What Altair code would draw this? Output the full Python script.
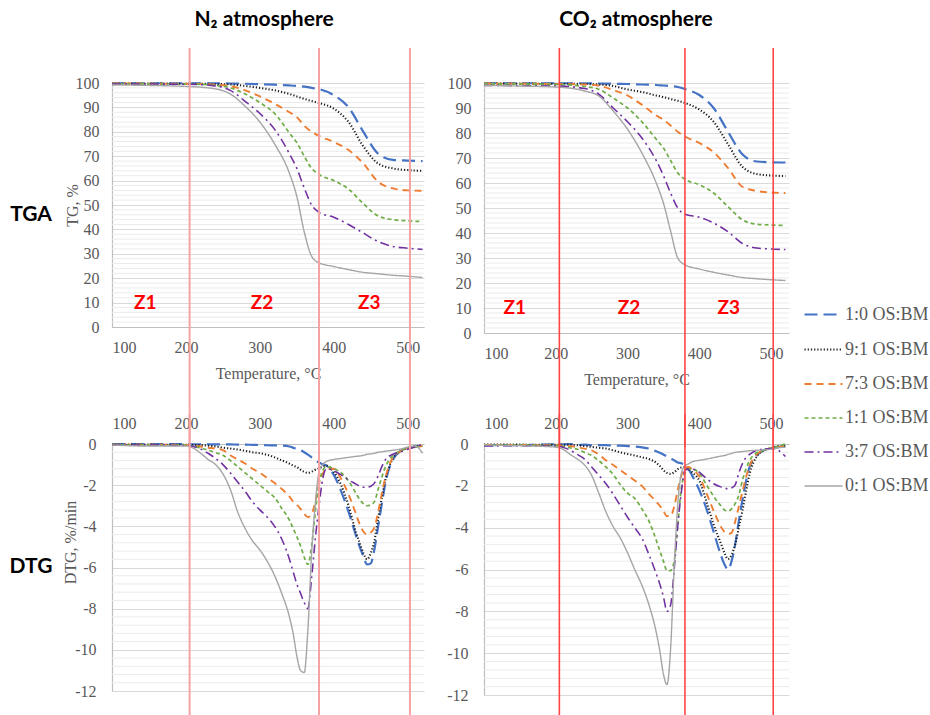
import altair as alt
import pandas as pd

# ---------------- series definitions ----------------
SERIES = ["1:0 OS:BM", "9:1 OS:BM", "7:3 OS:BM", "1:1 OS:BM", "3:7 OS:BM", "0:1 OS:BM"]
COLORS = ["#4472C4", "#1a1a1a", "#ED7D31", "#70AD47", "#7030A0", "#A5A5A5"]
DASHES = [[13, 6], [1.2, 2], [7, 5], [4, 3], [9, 4, 2, 4], [1, 0]]
WIDTHS = [2.2, 1.4, 2.2, 1.6, 2.2, 2.0]

# ---------------- TGA data (TG, %) ----------------
TEMP_TGA = [100, 200, 240, 260, 280, 300, 320, 340, 350, 360, 370, 380, 400, 420, 440, 460, 480, 500, 520]

TGA_N2_10 = [99.9, 99.9, 99.9, 99.8, 99.7, 99.5, 99.3, 99.0, 98.8, 98.5, 98.0, 97.5, 95.0, 90.0, 80.0, 71.0, 68.5, 68.2, 68.0]
TGA_N2_91 = [99.8, 99.7, 99.6, 99.4, 98.8, 98.0, 97.0, 95.5, 94.5, 93.5, 92.6, 91.8, 89.5, 84.0, 74.0, 67.0, 65.0, 64.3, 64.0]
TGA_N2_73 = [99.8, 99.7, 99.3, 98.7, 97.0, 94.5, 91.5, 88.0, 86.0, 82.5, 80.0, 78.3, 75.8, 72.5, 67.0, 59.5, 56.8, 56.0, 55.8]
TGA_N2_11 = [99.7, 99.6, 99.0, 98.0, 95.5, 92.0, 87.5, 79.5, 75.5, 70.0, 65.0, 62.5, 60.0, 56.5, 50.5, 45.5, 44.0, 43.5, 43.2]
TGA_N2_37 = [99.6, 99.5, 98.8, 97.0, 92.5, 87.5, 81.0, 71.0, 65.0, 57.0, 50.0, 47.0, 45.0, 42.0, 38.5, 35.0, 33.0, 32.3, 31.8]
TGA_N2_01 = [99.2, 98.6, 97.6, 95.5, 90.5, 84.0, 75.0, 63.0, 53.5, 39.0, 29.0, 26.3, 24.8, 23.5, 22.4, 21.8, 21.2, 20.8, 20.3]

TGA_CO2_10 = [99.9, 99.9, 99.9, 99.8, 99.7, 99.6, 99.4, 99.2, 99.0, 98.8, 98.4, 97.6, 95.2, 90.0, 80.5, 71.5, 68.6, 68.3, 68.2]
TGA_CO2_91 = [99.8, 99.7, 99.6, 99.4, 98.8, 97.4, 96.4, 95.0, 94.4, 93.6, 92.9, 92.0, 89.4, 84.5, 75.5, 66.5, 63.6, 63.0, 62.8]
TGA_CO2_73 = [99.8, 99.6, 99.4, 98.9, 97.2, 95.0, 91.3, 87.0, 85.3, 83.0, 80.5, 78.6, 76.0, 72.3, 66.0, 58.5, 56.8, 56.2, 56.0]
TGA_CO2_11 = [99.7, 99.4, 98.6, 97.5, 94.0, 90.0, 84.5, 77.5, 74.0, 69.0, 64.0, 61.5, 59.3, 56.0, 50.5, 45.3, 43.5, 43.2, 43.0]
TGA_CO2_37 = [99.0, 98.8, 97.8, 95.5, 90.0, 84.5, 78.0, 69.0, 63.0, 56.0, 50.0, 47.5, 46.3, 44.0, 40.5, 35.8, 34.0, 33.6, 33.4]
TGA_CO2_01 = [99.0, 98.4, 96.8, 94.8, 88.8, 81.5, 72.0, 60.0, 52.0, 40.8, 30.0, 27.3, 25.6, 24.3, 23.2, 22.2, 21.7, 21.3, 21.0]

# ---------------- DTG data (%/min) ----------------
TEMP_DTG = [100, 150, 200, 210, 220, 230, 240, 250, 260, 270, 280, 290, 300, 310, 320, 330, 340, 345,
            350, 355, 360, 365, 370, 375, 380, 385, 390, 400, 410, 420, 430, 435, 440, 445, 450, 455,
            460, 465, 470, 480, 490, 500, 510, 520]

DTG_N2_10 = [0.0, 0.0, 0.0, -0.02, -0.02, -0.02, -0.02, -0.02, -0.02, -0.03, -0.03, -0.04, -0.05, -0.06, -0.07,
             -0.08, -0.12, -0.18, -0.25, -0.3, -0.4, -0.52, -0.65, -0.8, -0.9, -0.98, -1.05, -1.5, -2.3, -3.3,
             -4.45, -5.0, -5.45, -5.85, -5.8, -5.1, -4.0, -2.9, -1.85, -0.75, -0.35, -0.2, -0.12, -0.1]
DTG_N2_91 = [-0.02, -0.03, -0.04, -0.05, -0.05, -0.08, -0.12, -0.18, -0.22, -0.27, -0.33, -0.4, -0.45, -0.52, -0.65,
             -0.8, -0.95, -1.05, -1.12, -1.25, -1.35, -1.4, -1.35, -1.25, -1.18, -1.1, -1.05, -1.35, -2.0, -3.0,
             -4.3, -4.8, -5.3, -5.6, -5.3, -4.7, -3.6, -2.6, -1.7, -0.7, -0.35, -0.2, -0.1, -0.1]
DTG_N2_73 = [-0.03, -0.03, -0.05, -0.08, -0.12, -0.18, -0.22, -0.3, -0.55, -0.75, -0.95, -1.2, -1.4, -1.65, -1.9,
             -2.2, -2.55, -2.8, -2.95, -3.15, -3.4, -3.55, -3.4, -2.8, -1.95, -1.45, -1.2, -1.2, -1.7, -2.45,
             -3.4, -3.9, -4.25, -4.4, -4.3, -4.05, -3.3, -2.4, -1.6, -0.65, -0.35, -0.2, -0.15, -0.1]
DTG_N2_11 = [-0.03, -0.05, -0.05, -0.1, -0.2, -0.3, -0.42, -0.55, -0.8, -1.1, -1.4, -1.7, -2.0, -2.3, -2.6,
             -3.15, -3.7, -4.1, -4.5, -4.95, -5.5, -5.85, -4.95, -3.3, -1.9, -1.3, -1.1, -1.2, -1.4, -1.8,
             -2.4, -2.7, -2.9, -3.0, -2.95, -2.8, -2.2, -1.6, -1.1, -0.55, -0.35, -0.2, -0.15, -0.1]
DTG_N2_37 = [-0.05, -0.05, -0.08, -0.12, -0.25, -0.45, -0.7, -1.0, -1.4, -1.85, -2.3, -2.8, -3.2, -3.55, -4.0,
             -4.65, -5.6, -6.2, -6.8, -7.25, -7.7, -8.0, -6.5, -4.6, -3.0, -1.7, -1.2, -1.3, -1.5, -1.75,
             -1.95, -2.05, -2.1, -2.1, -2.05, -1.9, -1.55, -1.1, -0.75, -0.5, -0.38, -0.25, -0.15, 0.0]
DTG_N2_01 = [-0.05, -0.1, -0.1, -0.2, -0.45, -0.75, -1.0, -1.45, -2.2, -3.3, -4.1, -4.7, -5.15, -5.7, -6.4,
             -7.3, -8.4, -9.2, -10.3, -11.0, -11.1, -9.0, -5.3, -2.9, -1.35, -1.0, -0.85, -0.75, -0.7, -0.65,
             -0.6, -0.58, -0.55, -0.5, -0.48, -0.45, -0.4, -0.38, -0.35, -0.3, -0.25, -0.15, -0.1, -0.45]

DTG_CO2_10 = [-0.05, -0.05, -0.02, -0.02, 0.0, -0.05, -0.03, -0.05, -0.05, -0.05, -0.08, -0.08, -0.1, -0.12, -0.16,
              -0.22, -0.35, -0.42, -0.5, -0.6, -0.68, -0.78, -0.88, -0.92, -1.0, -1.2, -1.5, -2.2, -3.1, -4.2,
              -5.3, -5.75, -6.0, -5.6, -4.8, -3.7, -2.7, -1.8, -1.1, -0.55, -0.3, -0.2, -0.15, -0.1]
DTG_CO2_91 = [-0.03, -0.03, -0.04, -0.04, -0.04, -0.06, -0.1, -0.14, -0.18, -0.22, -0.3, -0.4, -0.48, -0.55, -0.63,
              -0.72, -0.9, -1.05, -1.25, -1.38, -1.43, -1.35, -1.2, -1.12, -1.1, -1.2, -1.35, -1.75, -2.75, -3.85,
              -4.75, -5.2, -5.5, -5.3, -4.8, -4.0, -3.2, -2.3, -1.45, -0.6, -0.3, -0.2, -0.1, -0.1]
DTG_CO2_73 = [-0.05, -0.05, -0.06, -0.08, -0.1, -0.15, -0.22, -0.3, -0.5, -0.78, -1.0, -1.25, -1.5, -1.75, -2.0,
              -2.4, -2.75, -2.95, -3.2, -3.45, -3.45, -3.0, -2.2, -1.5, -1.15, -1.1, -1.2, -1.55, -2.35, -3.2,
              -3.95, -4.2, -4.3, -4.25, -3.7, -3.0, -2.3, -1.6, -1.05, -0.5, -0.3, -0.2, -0.15, -0.1]
DTG_CO2_11 = [-0.05, -0.05, -0.08, -0.12, -0.18, -0.25, -0.4, -0.55, -0.8, -1.1, -1.45, -1.95, -2.35, -2.6, -3.1,
              -3.7, -4.6, -5.1, -5.6, -6.05, -6.05, -5.6, -3.9, -2.1, -1.4, -1.2, -1.2, -1.4, -1.95, -2.5,
              -2.95, -3.15, -3.2, -3.1, -2.85, -2.45, -1.75, -1.2, -0.8, -0.42, -0.3, -0.2, -0.1, 0.0]
DTG_CO2_37 = [-0.1, -0.08, -0.1, -0.15, -0.3, -0.5, -0.72, -1.1, -1.5, -1.9, -2.4, -2.95, -3.5, -4.0, -4.5,
              -5.3, -6.2, -6.7, -7.3, -8.0, -7.7, -6.0, -3.9, -2.3, -1.25, -1.2, -1.2, -1.35, -1.65, -1.9,
              -2.05, -2.1, -2.15, -2.1, -1.95, -1.4, -0.95, -0.65, -0.5, -0.3, -0.25, -0.22, -0.3, -0.6]
DTG_CO2_01 = [-0.05, -0.08, -0.15, -0.25, -0.5, -0.72, -1.0, -1.5, -2.35, -3.25, -3.95, -4.5, -5.2, -6.0, -6.75,
              -7.7, -9.0, -9.9, -11.0, -11.5, -9.8, -5.9, -2.9, -1.4, -1.05, -0.95, -0.85, -0.78, -0.72, -0.65,
              -0.58, -0.55, -0.5, -0.45, -0.4, -0.38, -0.36, -0.34, -0.32, -0.3, -0.28, -0.25, -0.18, -0.15]

# ---------------- zones / ticks / texts ----------------
ZONE_BOUNDS = [205, 380, 503]
ZONE_NAMES = ["Z1", "Z2", "Z3"]
ZONE_T_N2 = [145, 303, 448]
ZONE_T_CO2 = [143, 302, 441]
ZONE_LEVEL = 10
X_TICKS = [100, 200, 300, 400, 500]
TGA_TICKS = [0, 10, 20, 30, 40, 50, 60, 70, 80, 90, 100]
DTG_TICKS = [0, -2, -4, -6, -8, -10, -12]
TGA_MINOR = [v for v in range(0, 101, 2) if v % 10]
DTG_MINOR = [round(-0.4 * i, 1) for i in range(1, 30) if i % 5]
PANEL_TITLES = {"N2": "N₂ atmosphere", "CO2": "CO₂ atmosphere"}

SERIF = "Liberation Serif"
SANS = "Lato"
GREY_TXT = "#595959"


def long_frame(temps, columns):
    rows = []
    for name, vals in zip(SERIES, columns):
        for t, v in zip(temps, vals):
            rows.append({"T": t, "v": v, "series": name})
    return pd.DataFrame(rows)


LEG = alt.Legend(title=None, orient="none", legendX=691, legendY=211,
                 symbolType="stroke", symbolSize=1444, labelFont=SERIF, labelFontSize=18,
                 labelColor=GREY_TXT, rowPadding=5, labelOffset=1)


def panel(kind, gas):
    left = gas == "N2"
    W = 312 if left else 305
    xscale = alt.Scale(domain=[100, 522] if left else [100, 525], nice=False, zero=False)
    if kind == "TGA":
        H = 244 if left else 250
        cols = ([TGA_N2_10, TGA_N2_91, TGA_N2_73, TGA_N2_11, TGA_N2_37, TGA_N2_01] if left else
                [TGA_CO2_10, TGA_CO2_91, TGA_CO2_73, TGA_CO2_11, TGA_CO2_37, TGA_CO2_01])
        df = long_frame(TEMP_TGA, cols)
        yscale = alt.Scale(domain=[0, 100], nice=False)
        xaxis = alt.Axis(values=X_TICKS, orient="bottom", title="Temperature, °C", grid=False,
                         ticks=False, labelPadding=12, titlePadding=10)
        yaxis = alt.Axis(values=TGA_TICKS, grid=True, ticks=False, labelPadding=13,
                         title="TG, %" if left else None, titleX=-40, titleY=H / 2,
                         titleAngle=270, titleAlign="center", titleBaseline="middle")
        minor = TGA_MINOR
        rule_top, rule_bot = -35, 364
    else:
        H = 247 if left else 251
        cols = ([DTG_N2_10, DTG_N2_91, DTG_N2_73, DTG_N2_11, DTG_N2_37, DTG_N2_01] if left else
                [DTG_CO2_10, DTG_CO2_91, DTG_CO2_73, DTG_CO2_11, DTG_CO2_37, DTG_CO2_01])
        df = long_frame(TEMP_DTG, cols)
        yscale = alt.Scale(domain=[-12, 0], nice=False)
        xaxis = alt.Axis(values=X_TICKS, orient="top", title=None, grid=False, ticks=False,
                         labelPadding=13)
        yaxis = alt.Axis(values=DTG_TICKS, grid=True, ticks=False, labelPadding=16,
                         labelExpr="'' + datum.value",
                         title="DTG, %/min" if left else None, titleX=-42, titleY=98,
                         titleAngle=270, titleAlign="center", titleBaseline="middle")
        minor = DTG_MINOR
        rule_top, rule_bot = -30, 280

    minor_grid = alt.Chart(pd.DataFrame({"g": minor})).mark_rule(color="#ebebeb", strokeWidth=1).encode(
        y=alt.Y("g:Q", scale=yscale, axis=yaxis)
    )

    lines = alt.Chart(df).mark_line(interpolate="monotone").encode(
        x=alt.X("T:Q", scale=xscale, axis=xaxis),
        y=alt.Y("v:Q", scale=yscale, axis=yaxis),
        color=alt.Color("series:N", scale=alt.Scale(domain=SERIES, range=COLORS), legend=LEG, title=None),
        strokeDash=alt.StrokeDash("series:N", scale=alt.Scale(domain=SERIES, range=DASHES), legend=LEG, title=None),
        strokeWidth=alt.StrokeWidth("series:N", scale=alt.Scale(domain=SERIES, range=WIDTHS), legend=LEG, title=None),
    )

    red = "#f5a3a3" if left else "#ff4545"
    zone_rules = alt.Chart(pd.DataFrame({"b": ZONE_BOUNDS})).mark_rule(
        color=red, strokeWidth=2 if left else 1.6
    ).encode(
        x=alt.X("b:Q", scale=xscale, axis=xaxis),
        y=alt.value(rule_top), y2=alt.value(rule_bot),
    )

    layers = [minor_grid, lines]
    if kind == "TGA":
        zdf = pd.DataFrame({"z": ZONE_NAMES, "t": ZONE_T_N2 if left else ZONE_T_CO2,
                            "lvl": [ZONE_LEVEL] * 3})
        zones = alt.Chart(zdf).mark_text(color="#FF0000", font=SANS, fontWeight="bold", fontSize=19,
                                         align="center", baseline="middle").encode(
            x=alt.X("t:Q", scale=xscale, axis=xaxis),
            y=alt.Y("lvl:Q", scale=yscale, axis=yaxis),
            text="z:N",
        )
        layers.append(zones)
        head = alt.Chart(pd.DataFrame({"h": [PANEL_TITLES[gas]]})).mark_text(
            font=SANS, fontWeight="bold", fontSize=21, color="black", align="center", baseline="middle"
        ).encode(text="h:N", x=alt.value(152), y=alt.value(-63))
        layers.append(head)
    layers.append(zone_rules)
    if left:
        lab = alt.Chart(pd.DataFrame({"r": [kind]})).mark_text(
            font=SANS, fontWeight="bold", fontSize=21, color="black", align="center", baseline="middle"
        ).encode(text="r:N", x=alt.value(-81), y=alt.value(132 if kind == "TGA" else 123))
        layers.append(lab)

    return alt.layer(*layers).properties(width=W, height=H)


chart = alt.concat(
    panel("TGA", "N2"), panel("TGA", "CO2"), panel("DTG", "N2"), panel("DTG", "CO2"),
    columns=2, spacing={"row": 111, "column": 60}, bounds="flush",
).properties(
    padding={"left": 9, "top": 9, "right": 0, "bottom": 0}
).configure_view(stroke=None).configure_axis(
    labelFont=SERIF, labelFontSize=16, labelColor=GREY_TXT,
    titleFont=SERIF, titleFontSize=16, titleColor=GREY_TXT, titleFontWeight="normal",
    domainColor="#bfbfbf", gridColor="#d9d9d9", domainWidth=1.2,
)

chart.save("out.html", embed_options={"renderer": "svg", "actions": False})
